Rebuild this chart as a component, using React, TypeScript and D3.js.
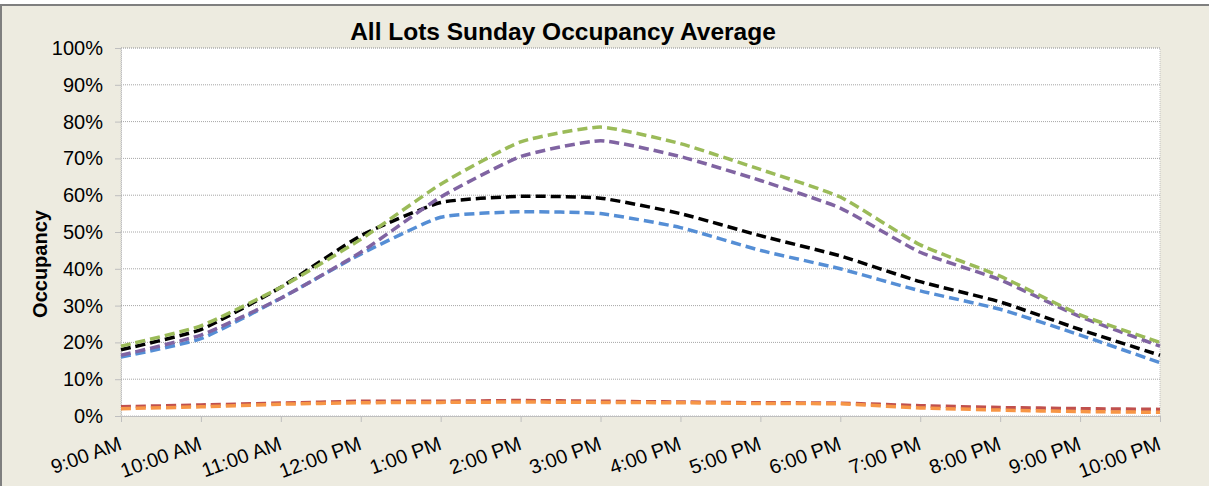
import React, { useEffect, useRef } from 'react';
import * as d3 from 'd3';

const times = ['9:00 AM', '10:00 AM', '11:00 AM', '12:00 PM', '1:00 PM', '2:00 PM', '3:00 PM', '4:00 PM', '5:00 PM', '6:00 PM', '7:00 PM', '8:00 PM', '9:00 PM', '10:00 PM'];
const green = [19, 24.5, 35, 48, 63, 74.5, 78.5, 74, 67, 59.5, 46.5, 38, 27.5, 20];
const purple = [16.5, 22, 32, 44.5, 59.5, 70.5, 74.8, 70.5, 64, 56.5, 44.5, 37, 27, 19];
const black = [18, 23.5, 35, 49, 58, 59.7, 59.2, 55, 49, 43.5, 36.5, 31, 23.5, 16.5];
const blue = [16, 21, 32, 44, 54, 55.5, 55, 51.2, 45, 40, 34, 29, 22, 14.5];
const red = [2.5, 3, 3.5, 4, 4, 4.2, 4, 3.8, 3.6, 3.5, 2.8, 2.3, 2, 1.8];
const orange = [2, 2.5, 3.2, 3.6, 3.7, 3.8, 3.7, 3.6, 3.4, 3.3, 2.2, 1.6, 1.2, 1];
const yTicks = [0, 10, 20, 30, 40, 50, 60, 70, 80, 90, 100];

const series = [
  { values: red, color: '#C0504D' },
  { values: orange, color: '#F79646' },
  { values: blue, color: '#558ED5' },
  { values: black, color: '#000000' },
  { values: purple, color: '#8064A2' },
  { values: green, color: '#9BBB59' },
];

const W = 1209, H = 486;
const margin = { top: 48, right: 49, bottom: 70, left: 121 };
const font = 'Arial, "Liberation Sans", sans-serif';

export default function App() {
  const ref = useRef<SVGGElement>(null);

  useEffect(() => {
    const g = d3.select(ref.current);
    g.selectAll('*').remove();
    const w = W - margin.left - margin.right;
    const h = H - margin.top - margin.bottom;

    const x = d3.scalePoint().domain(times).range([0, w]);
    const y = d3.scaleLinear().domain([0, 100]).range([h, 0]);

    g.append('rect').attr('width', w).attr('height', h).attr('fill', '#fff')
      .attr('stroke', '#BFBFBF').attr('stroke-dasharray', '1,1');

    g.selectAll('.grid').data(yTicks.slice(1)).enter().append('line')
      .attr('x1', 0).attr('x2', w)
      .attr('y1', d => y(d)).attr('y2', d => y(d))
      .attr('stroke', '#A6A6A6').attr('stroke-dasharray', '1,1');

    const yAxis = g.append('g').call(
      d3.axisLeft(y).tickValues(yTicks).tickFormat(d => d + '%').tickSize(6).tickPadding(12)
    );
    yAxis.select('.domain').attr('stroke', '#BFBFBF').attr('stroke-dasharray', '1,1');
    yAxis.selectAll('line').attr('stroke', '#BFBFBF');
    yAxis.selectAll('text').attr('font-family', font)
      .attr('font-size', 20).attr('fill', '#000');

    const xAxis = g.append('g').attr('transform', `translate(0,${h})`)
      .call(d3.axisBottom(x).tickSize(6).tickFormat(() => ''));
    xAxis.select('.domain').attr('stroke', '#BFBFBF');
    xAxis.selectAll('line').attr('stroke', '#BFBFBF');

    g.selectAll('.xl').data(times).enter().append('text')
      .attr('transform', d => `translate(${(x(d) as number) + 2},${h + 33}) rotate(-20)`)
      .attr('text-anchor', 'end')
      .style('font-family', font).style('font-size', '20px')
      .text(d => d);

    const line = d3.line<number>()
      .x((_, i) => x(times[i]) as number)
      .y(d => y(d))
      .curve(d3.curveCardinal.tension(0.5));

    series.forEach(s => {
      g.append('path').datum(s.values).attr('d', line)
        .attr('fill', 'none').attr('stroke', s.color).attr('stroke-width', 3.5)
        .attr('stroke-dasharray', '10,5');
    });
  }, []);

  return (
    <div style={{ position: 'absolute', left: 0, top: 0 }}>
      <svg width={W} height={H} style={{ display: 'block' }}>
        <rect x={0} y={0} width={W} height={H} fill="#fff" />
        <rect x={1} y={5} width={W + 5} height={H + 5} fill="#EDEBE0" stroke="#7F7F7F" strokeWidth={2} />
        <text x={563} y={40} textAnchor="middle" fontFamily={font}
          fontWeight="bold" fontSize={24.5}>All Lots Sunday Occupancy Average</text>
        <text transform={`translate(47,${margin.top + 216}) rotate(-90)`} textAnchor="middle"
          fontFamily={font} fontWeight="bold" fontSize={20}>Occupancy</text>
        <g ref={ref} transform={`translate(${margin.left},${margin.top})`} />
      </svg>
    </div>
  );
}
